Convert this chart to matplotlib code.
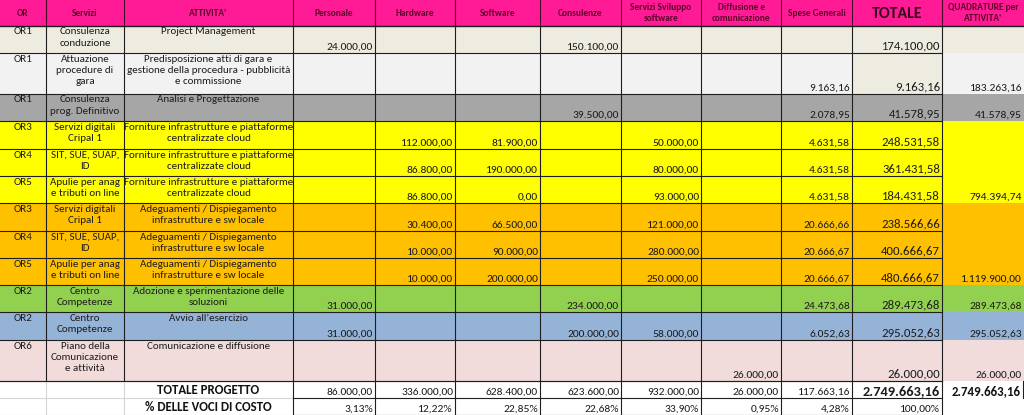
import matplotlib
matplotlib.use('Agg')
import matplotlib.pyplot as plt
from matplotlib.patches import Rectangle
from matplotlib import font_manager
from matplotlib.font_manager import FontProperties
from matplotlib.textpath import TextPath

# ---------------------------------------------------------------------
# Data of the budget table
# ---------------------------------------------------------------------
headers = ['OR', 'Servizi', "ATTIVITA'", 'Personale', 'Hardware', 'Software',
           'Consulenze', 'Servizi Sviluppo\nsoftware', 'Diffusione e\ncomunicazione',
           'Spese Generali', 'TOTALE', "QUADRATURE per\nATTIVITA'"]

or_codes = ['OR1', 'OR1', 'OR1', 'OR3', 'OR4', 'OR5', 'OR3', 'OR4', 'OR5', 'OR2', 'OR2', 'OR6']

servizi = ['Consulenza\nconduzione', 'Attuazione\nprocedure di\ngara', 'Consulenza\nprog. Definitivo',
           'Servizi digitali\nCripal 1', 'SIT, SUE, SUAP,\nID', 'Apulie per anag\ne tributi on line',
           'Servizi digitali\nCripal 1', 'SIT, SUE, SUAP,\nID', 'Apulie per anag\ne tributi on line',
           'Centro\nCompetenze', 'Centro\nCompetenze', 'Piano della\nComunicazione\ne attività']

attivita = ['Project Management',
            'Predisposizione atti di gara e\ngestione della procedura - pubblicità\ne commissione',
            'Analisi e Progettazione',
            'Forniture infrastrutture e piattaforme\ncentralizzate cloud',
            'Forniture infrastrutture e piattaforme\ncentralizzate cloud',
            'Forniture infrastrutture e piattaforme\ncentralizzate cloud',
            'Adeguamenti / Dispiegamento\ninfrastrutture e sw locale',
            'Adeguamenti / Dispiegamento\ninfrastrutture e sw locale',
            'Adeguamenti / Dispiegamento\ninfrastrutture e sw locale',
            'Adozione e sperimentazione delle\nsoluzioni',
            'Avvio all\u2019esercizio',
            'Comunicazione e diffusione']

N = None
personale = [24000, N, N, N, N, N, N, N, N, 31000, 31000, N]
hardware = [N, N, N, 112000, 86800, 86800, 30400, 10000, 10000, N, N, N]
software = [N, N, N, 81900, 190000, 0.0, 66500, 90000, 200000, N, N, N]
consulenze = [150100, N, 39500, N, N, N, N, N, N, 234000, 200000, N]
sviluppo = [N, N, N, 50000, 80000, 93000, 121000, 280000, 250000, N, 58000, N]
diffusione = [N, N, N, N, N, N, N, N, N, N, N, 26000]
spese = [N, 9163.16, 2078.95, 4631.58, 4631.58, 4631.58, 20666.66, 20666.67, 20666.67,
         24473.68, 6052.63, N]
totale = [174100, 9163.16, 41578.95, 248531.58, 361431.58, 184431.58, 238566.66,
          400666.67, 480666.67, 289473.68, 295052.63, 26000]
quadrature = [N, 183263.16, 41578.95, N, N, 794394.74, N, N, 1119900, 289473.68,
              295052.63, 26000]

totale_progetto = [86000, 336000, 628400, 623600, 932000, 26000, 117663.16, 2749663.16]
totale_quadratura = 2749663.16
percentuali = [3.13, 12.22, 22.85, 22.68, 33.90, 0.95, 4.28, 100.00]

# ---------------------------------------------------------------------
# Layout (pixel grid of the sheet)
# ---------------------------------------------------------------------
col_edges = [0, 46, 124, 293, 375, 455, 540, 621, 701, 781, 852, 942, 1024]
row_edges = [0, 26, 53, 94, 121, 149, 176, 203, 231, 258, 285, 312, 340, 381, 398, 415]

row_colors = ['#EEECE1', '#F2F2F2', '#A6A6A6', '#FFFF00', '#FFFF00', '#FFFF00',
              '#FFC000', '#FFC000', '#FFC000', '#92D050', '#95B3D7', '#F2DCDB']
header_color = '#FF1A96'
header_text = '#5C0529'
text_color = '#1C1C1C'
line_color = '#1E1E1E'

# pick a narrow font if one is installed (Calibri look-alike), and one with a real bold
installed = {f.name for f in font_manager.fontManager.ttflist}
bold_installed = {f.name for f in font_manager.fontManager.ttflist
                  if (f.weight if isinstance(f.weight, int) else 400) >= 600 or f.weight == 'bold'}
FONT = 'Lato'
for name in ['Carlito', 'Liberation Sans Narrow', 'Roboto Condensed', 'Lato']:
    if name in installed:
        FONT = name
        break
BFONT = 'DejaVu Sans'
for name in [FONT, 'Carlito', 'Lato', 'Roboto', 'Open Sans', 'Liberation Sans']:
    if name in bold_installed:
        BFONT = name
        break


def fit(sample, width_px, weight='normal'):
    # font size (pt) so that the sample text is width_px wide, as in the sheet
    fam = BFONT if weight == 'bold' else FONT
    fp = FontProperties(family=fam, weight=weight)
    w = max(TextPath((0, 0), line, size=10, prop=fp).get_extents().width
            for line in sample.split('\n'))
    return 10 * width_px / (w * 100 / 72)


fs_body = fit('gestione della procedura - pubblicità', 163)
fs_num = fit('150.100,00', 51)
fs_tot = fit('174.100,00', 57)
fs_head = fit('Hardware', 38, 'bold')
fs_head_tot = fit('TOTALE', 50, 'bold')
fs_big = fit('TOTALE PROGETTO', 102, 'bold')
fs_quad = fit('2.749.663,16', 68, 'bold')
fs_grand = fit('2.749.663,16', 76, 'bold')


def fmt(v):
    s = f'{v:,.2f}'
    return s.replace(',', 'X').replace('.', ',').replace('X', '.')


fig = plt.figure(figsize=(10.24, 4.15), dpi=100)
ax = fig.add_axes([0, 0, 1, 1])
ax.set_xlim(0, 1024)
ax.set_ylim(415, 0)
ax.axis('off')

# -----------------
# Header
# -----------------
ax.add_patch(Rectangle((0, 0), 1024, row_edges[1], color=header_color, lw=0))
for j, h in enumerate(headers):
    xc = (col_edges[j] + col_edges[j + 1]) / 2
    if h == 'TOTALE':
        ax.text(xc, 14, h, ha='center', va='center', fontsize=fs_head_tot, weight='bold',
                color='#33041A', family=BFONT)
    else:
        ax.text(xc, 13, h, ha='center', va='center', fontsize=fs_head, weight='bold',
                color=header_text, family=BFONT, linespacing=1.25)
for x in col_edges[1:-1]:
    ax.plot([x, x], [0, row_edges[1]], color='#4A0626', lw=0.8)
ax.plot([0, 1024], [row_edges[1], row_edges[1]], color=line_color, lw=1.0)

# -----------------
# Body rows
# -----------------
numeric_cols = [personale, hardware, software, consulenze, sviluppo, diffusione, spese, totale,
                quadrature]
for i in range(12):
    top, bot = row_edges[i + 1], row_edges[i + 2]
    ax.add_patch(Rectangle((0, top), 1024, bot - top, color=row_colors[i], lw=0))
    if i == 1:
        ax.add_patch(Rectangle((col_edges[10], top), col_edges[11] - col_edges[10], bot - top,
                               color='#EEECE1', lw=0))
    # text columns
    for j, txt in enumerate([or_codes[i], servizi[i], attivita[i]]):
        xc = (col_edges[j] + col_edges[j + 1]) / 2
        ax.text(xc, top + 1.5, txt, ha='center', va='top', fontsize=fs_body, color=text_color,
                family=FONT, linespacing=1.3)
    # numbers
    for k, col in enumerate(numeric_cols):
        v = col[i]
        if v is None:
            continue
        j = k + 3
        size = fs_tot if j == 10 else fs_num
        ax.text(col_edges[j + 1] - 2, bot - 1.5, fmt(v), ha='right', va='bottom',
                fontsize=size, color=text_color, family=FONT)

# grid lines of body (not in the QUADRATURE column)
for y in row_edges[2:14]:
    ax.plot([0, col_edges[11]], [y, y], color=line_color, lw=0.8)
for x in col_edges[1:12]:
    ax.plot([x, x], [row_edges[1], row_edges[13]], color=line_color, lw=0.8)

# -----------------
# Totals
# -----------------
t_top, t_mid, t_bot = row_edges[13], row_edges[14], row_edges[15]
light = '#D4D4D4'
for y in [t_mid, t_bot - 0.5]:
    ax.plot([0, col_edges[3]], [y, y], color=light, lw=0.8)
for x in col_edges[1:3]:
    ax.plot([x, x], [t_top, t_bot], color=light, lw=0.8)

xc = (col_edges[2] + col_edges[3]) / 2
ax.text(xc, (t_top + t_mid) / 2 + 0.5, 'TOTALE PROGETTO', ha='center', va='center',
        fontsize=fs_big, weight='bold', color='#111111', family=BFONT)
ax.text(xc, (t_mid + t_bot) / 2 + 0.5, '% DELLE VOCI DI COSTO', ha='center', va='center',
        fontsize=fs_big, weight='bold', color='#111111', family=BFONT)

for k, v in enumerate(totale_progetto):
    j = k + 3
    bold = j == 10
    ax.text(col_edges[j + 1] - 2, t_mid - 1, fmt(v), ha='right', va='bottom',
            fontsize=fs_grand if bold else fs_num,
            weight='bold' if bold else 'normal',
            color=text_color, family=BFONT if bold else FONT)
for k, p in enumerate(percentuali):
    j = k + 3
    ax.text(col_edges[j + 1] - 2, t_bot - 1, fmt(p) + '%', ha='right', va='bottom',
            fontsize=fs_num, color=text_color, family=FONT)
ax.text(1021, t_mid - 1, fmt(totale_quadratura), ha='right', va='bottom', fontsize=fs_quad,
        weight='bold', color='#111111', family=BFONT)

for y in [t_top, t_mid, t_bot - 0.5]:
    ax.plot([col_edges[3], col_edges[11]], [y, y], color=line_color, lw=0.8)
ax.plot([0, col_edges[3]], [t_top, t_top], color=line_color, lw=0.8)
for x in col_edges[3:12]:
    ax.plot([x, x], [t_top, t_bot], color=line_color, lw=0.8)
ax.plot([1023, 1023], [t_top, t_mid], color=line_color, lw=0.8)

fig.savefig('out.png', dpi=100)
